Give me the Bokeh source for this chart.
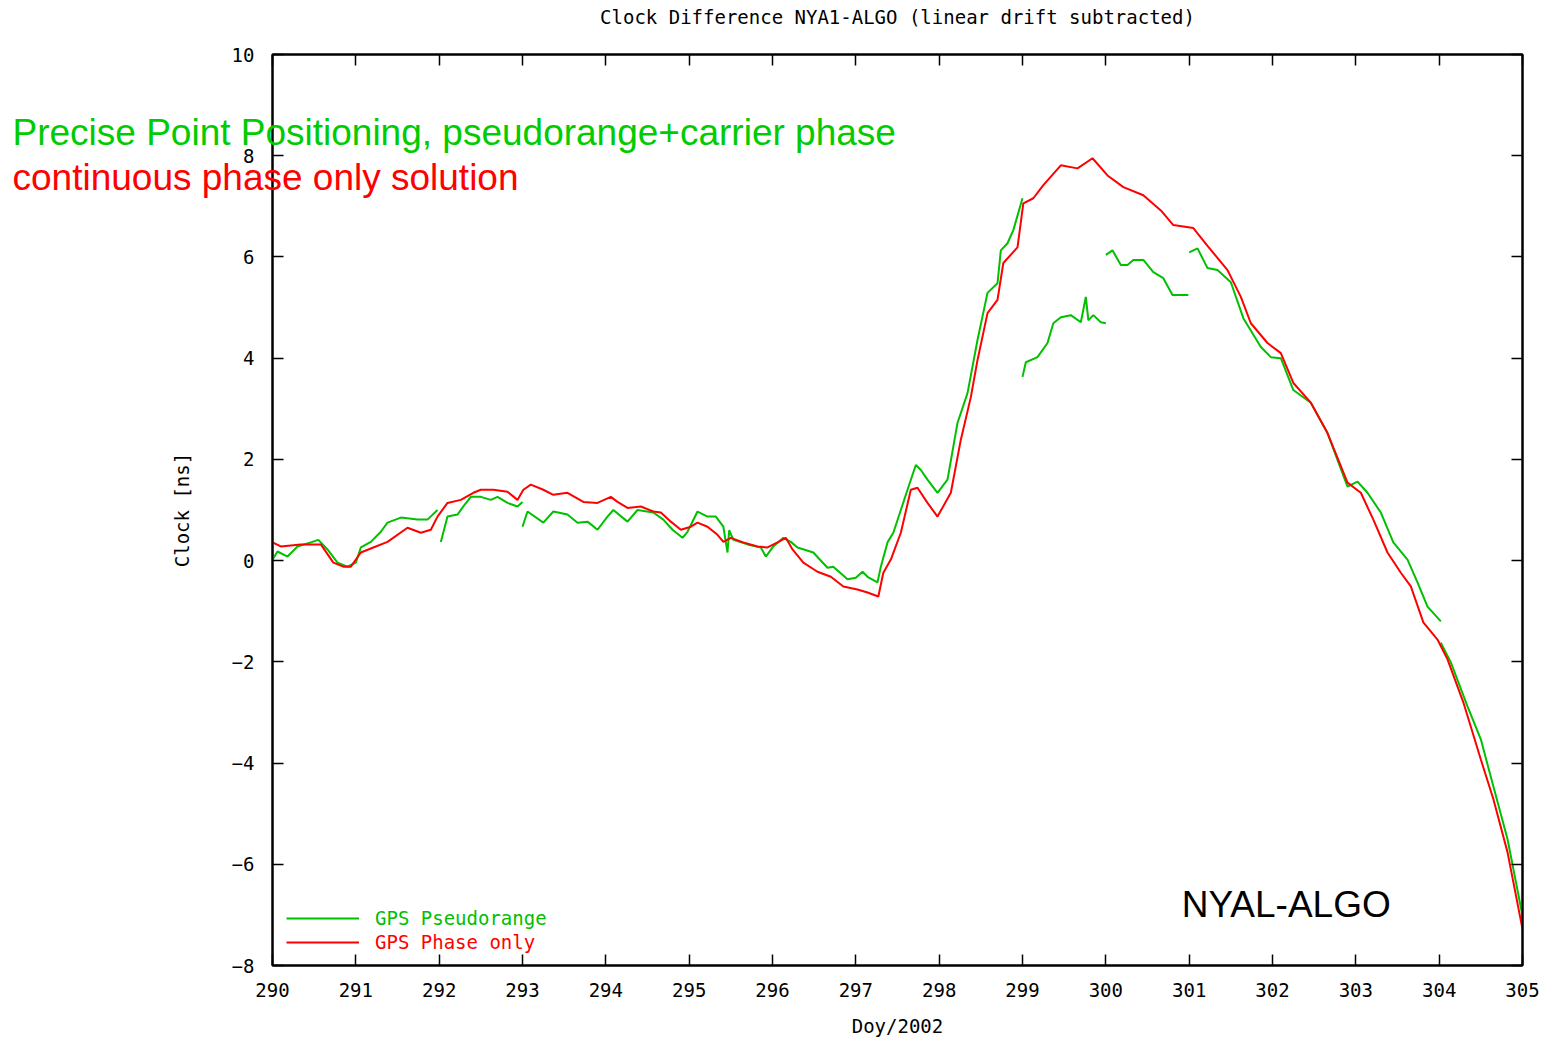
import math
from bokeh.plotting import figure
from bokeh.models import (Range1d, FixedTicker, LinearAxis, Legend, LegendItem,
                          CustomJSTickFormatter)
from bokeh.core.properties import value
from bokeh.embed import file_html
from bokeh.resources import INLINE

# ---------------- data ----------------
title_text = "Clock Difference NYA1-ALGO (linear drift subtracted)"
x_ticks = list(range(290, 306))
y_ticks = list(range(-8, 11, 2))

phase_doy = [290.0, 290.10, 290.34, 290.58, 290.73, 290.85, 290.94, 291.06, 291.21, 291.38,
             291.62, 291.78, 291.90, 291.98, 292.10, 292.26, 292.41, 292.50, 292.65, 292.82,
             292.94, 293.01, 293.10, 293.25, 293.37, 293.54, 293.73, 293.90, 294.06, 294.14,
             294.26, 294.42, 294.57, 294.66, 294.78, 294.90, 295.02, 295.10, 295.22, 295.34,
             295.41, 295.50, 295.65, 295.82, 295.94, 296.06, 296.16, 296.24, 296.37, 296.54,
             296.70, 296.85, 297.02, 297.14, 297.27, 297.33, 297.42, 297.54, 297.66, 297.74,
             297.86, 297.98, 298.14, 298.26, 298.38, 298.46, 298.58, 298.70, 298.77, 298.94,
             299.01, 299.13, 299.25, 299.46, 299.66, 299.84, 300.02, 300.21, 300.45, 300.66,
             300.81, 301.05, 301.22, 301.46, 301.62, 301.74, 301.94, 302.10, 302.25, 302.46,
             302.66, 302.90, 303.06, 303.21, 303.38, 303.54, 303.66, 303.81, 303.98, 304.10,
             304.29, 304.50, 304.65, 304.82, 305.0]
phase_ns = [0.36, 0.28, 0.32, 0.32, -0.04, -0.12, -0.12, 0.16, 0.26, 0.37,
            0.65, 0.55, 0.61, 0.87, 1.14, 1.20, 1.34, 1.40, 1.40, 1.36,
            1.20, 1.40, 1.50, 1.40, 1.30, 1.34, 1.16, 1.14, 1.26, 1.16,
            1.04, 1.07, 0.97, 0.95, 0.77, 0.61, 0.67, 0.75, 0.67, 0.51,
            0.37, 0.45, 0.36, 0.28, 0.26, 0.36, 0.45, 0.22, -0.04, -0.22,
            -0.32, -0.51, -0.57, -0.63, -0.71, -0.24, 0.02, 0.55, 1.40, 1.44,
            1.14, 0.87, 1.34, 2.39, 3.23, 3.96, 4.89, 5.15, 5.88, 6.19,
            7.06, 7.16, 7.42, 7.81, 7.75, 7.95, 7.61, 7.38, 7.22, 6.92,
            6.63, 6.57, 6.22, 5.74, 5.21, 4.69, 4.30, 4.10, 3.51, 3.12,
            2.52, 1.54, 1.34, 0.81, 0.16, -0.24, -0.51, -1.22, -1.56, -1.95,
            -2.80, -3.93, -4.71, -5.76, -7.28]

# pseudorange solution: separate arcs
pr1_doy = [290.0, 290.06, 290.18, 290.30, 290.46, 290.55, 290.66, 290.78, 290.90, 291.00,
           291.06, 291.18, 291.30, 291.38, 291.54, 291.74, 291.86, 291.98]
pr1_ns = [0.02, 0.18, 0.08, 0.28, 0.36, 0.41, 0.22, -0.04, -0.12, -0.04,
          0.26, 0.37, 0.57, 0.75, 0.85, 0.81, 0.81, 1.00]
pr2_doy = [292.02, 292.10, 292.22, 292.29, 292.38, 292.50, 292.62, 292.70, 292.82, 292.94, 293.00]
pr2_ns = [0.37, 0.87, 0.91, 1.07, 1.26, 1.26, 1.20, 1.26, 1.14, 1.07, 1.16]
pr3_doy = [293.00, 293.06, 293.25, 293.37, 293.54, 293.66, 293.78, 293.90, 294.02, 294.09,
           294.26, 294.38, 294.57, 294.69, 294.80, 294.92, 294.98, 295.10, 295.22, 295.32,
           295.41, 295.46, 295.48, 295.53, 295.70, 295.86, 295.92, 296.01, 296.13, 296.22,
           296.30, 296.49, 296.66, 296.73, 296.90, 297.00, 297.08, 297.14, 297.26, 297.30,
           297.38, 297.45, 297.54, 297.62, 297.72, 297.78, 297.86, 297.98, 298.10, 298.22,
           298.34, 298.46, 298.58, 298.70, 298.74, 298.82, 298.89, 299.00]
pr3_ns = [0.67, 0.97, 0.75, 0.97, 0.91, 0.75, 0.77, 0.61, 0.87, 1.00,
          0.77, 1.00, 0.95, 0.81, 0.61, 0.45, 0.57, 0.97, 0.87, 0.87,
          0.67, 0.16, 0.60, 0.41, 0.32, 0.26, 0.08, 0.28, 0.45, 0.37,
          0.26, 0.16, -0.14, -0.12, -0.37, -0.34, -0.22, -0.32, -0.43, -0.12,
          0.36, 0.55, 1.00, 1.40, 1.89, 1.79, 1.60, 1.34, 1.60, 2.72,
          3.31, 4.36, 5.29, 5.48, 6.13, 6.27, 6.53, 7.16]
pr4_doy = [299.00, 299.04, 299.18, 299.30, 299.37, 299.46, 299.58, 299.70, 299.76, 299.79,
           299.85, 299.94, 300.00]
pr4_ns = [3.63, 3.92, 4.02, 4.30, 4.69, 4.81, 4.85, 4.71, 5.21, 4.75, 4.85, 4.71, 4.69]
pr5_doy = [300.00, 300.08, 300.18, 300.26, 300.33, 300.45, 300.57, 300.69, 300.80, 300.90, 300.99]
pr5_ns = [6.04, 6.13, 5.84, 5.84, 5.94, 5.94, 5.70, 5.58, 5.25, 5.25, 5.25]
pr6_doy = [301.00, 301.10, 301.22, 301.34, 301.50, 301.65, 301.86, 301.98, 302.10, 302.25,
           302.46, 302.66, 302.90, 303.02, 303.14, 303.30, 303.45, 303.62, 303.74, 303.86, 304.02]
pr6_ns = [6.09, 6.17, 5.78, 5.74, 5.50, 4.79, 4.22, 4.02, 4.00, 3.37,
          3.12, 2.52, 1.46, 1.56, 1.34, 0.95, 0.36, 0.02, -0.43, -0.91, -1.20]
pr7_doy = [304.02, 304.14, 304.34, 304.50, 304.65, 304.82, 305.00]
pr7_ns = [-1.62, -2.01, -2.88, -3.53, -4.46, -5.50, -7.02]

arcs_doy = [pr1_doy, pr2_doy, pr3_doy, pr4_doy, pr5_doy, pr6_doy, pr7_doy]
arcs_ns = [pr1_ns, pr2_ns, pr3_ns, pr4_ns, pr5_ns, pr6_ns, pr7_ns]

pr_doy, pr_ns = [], []
for a, b in zip(arcs_doy, arcs_ns):
    if pr_doy:
        pr_doy.append(math.nan)
        pr_ns.append(math.nan)
    pr_doy.extend(a)
    pr_ns.extend(b)

# ---------------- styling ----------------
GREEN = "#00c000"
TEXT_GREEN = "#00cc00"
RED = "#ff0000"
MONO = "DejaVu Sans Mono"
SANS = "Liberation Sans"
FS = "19px"

p = figure(frame_width=1250, frame_height=911, output_backend="svg", toolbar_location=None,
           x_range=Range1d(290, 305), y_range=Range1d(-8, 10),
           min_border_left=272, min_border_right=34, min_border_top=54, min_border_bottom=72)
p.title.visible = False
p.grid.visible = False
p.outline_line_color = "black"
p.outline_line_width = 2
p.background_fill_color = "white"
p.border_fill_color = "white"

for ax, ticks in ((p.xaxis[0], x_ticks), (p.yaxis[0], y_ticks)):
    ax.ticker = FixedTicker(ticks=ticks)
    ax.major_tick_in = 11
    ax.major_tick_out = 0
    ax.minor_tick_line_color = None
    ax.major_tick_line_width = 1.5
    ax.axis_line_width = 2
    ax.major_label_text_font = MONO
    ax.major_label_text_font_size = FS
    ax.major_label_text_color = "black"
    ax.axis_label_text_font = MONO
    ax.axis_label_text_font_size = FS
    ax.axis_label_text_font_style = "normal"
    ax.axis_label_text_color = "black"

p.xaxis[0].major_label_standoff = 17
p.yaxis[0].major_label_standoff = 18
p.xaxis[0].axis_label = "Doy/2002"
p.xaxis[0].axis_label_standoff = 15
p.yaxis[0].axis_label = "Clock [ns]"
p.yaxis[0].axis_label_standoff = 36

blank = CustomJSTickFormatter(code="return ''")
right_ax = LinearAxis(ticker=FixedTicker(ticks=y_ticks), formatter=blank,
                      major_tick_in=11, major_tick_out=0, minor_tick_line_color=None,
                      major_tick_line_width=1.5, axis_line_width=2, major_label_standoff=0)
# the top axis carries the chart title as its label
top_ax = LinearAxis(ticker=FixedTicker(ticks=x_ticks), formatter=blank,
                    major_tick_in=11, major_tick_out=0, minor_tick_line_color=None,
                    major_tick_line_width=1.5, axis_line_width=2, major_label_standoff=0,
                    axis_label=title_text, axis_label_text_font=MONO,
                    axis_label_text_font_size=FS, axis_label_text_font_style="normal",
                    axis_label_text_color="black", axis_label_standoff=27)
p.add_layout(right_ax, "right")
p.add_layout(top_ax, "above")

r_pr = p.line(pr_doy, pr_ns, line_color=GREEN, line_width=2)
r_ph = p.line(phase_doy, phase_ns, line_color=RED, line_width=2)

leg1 = Legend(items=[LegendItem(label="GPS Pseudorange", renderers=[r_pr])],
              location=(14, 36), label_text_color=GREEN, label_text_font=MONO,
              label_text_font_size=FS, glyph_width=73, glyph_height=20, label_height=20,
              label_standoff=16, padding=0, margin=0, spacing=0,
              border_line_color=None, background_fill_alpha=0)
leg2 = Legend(items=[LegendItem(label="GPS Phase only", renderers=[r_ph])],
              location=(14, 12), label_text_color=RED, label_text_font=MONO,
              label_text_font_size=FS, glyph_width=73, glyph_height=20, label_height=20,
              label_standoff=16, padding=0, margin=0, spacing=0,
              border_line_color=None, background_fill_alpha=0)
p.add_layout(leg1)
p.add_layout(leg2)

# overlay annotations (drawn at overlay level so they may extend past the frame)
p.text(x=[286.88], y=[8.46], text=["Precise Point Positioning, pseudorange+carrier phase"],
       text_color=TEXT_GREEN, text_font=value(SANS), text_font_size="37px",
       text_baseline="alphabetic", level="overlay")
p.text(x=[286.88], y=[7.57], text=["continuous phase only solution"],
       text_color=RED, text_font=value(SANS), text_font_size="37px",
       text_baseline="alphabetic", level="overlay")
p.text(x=[300.91], y=[-6.79], text=["NYAL-ALGO"],
       text_color="black", text_font=value(SANS), text_font_size="37px",
       text_baseline="alphabetic", level="overlay")

open("out.html", "w").write(file_html(p, INLINE))
